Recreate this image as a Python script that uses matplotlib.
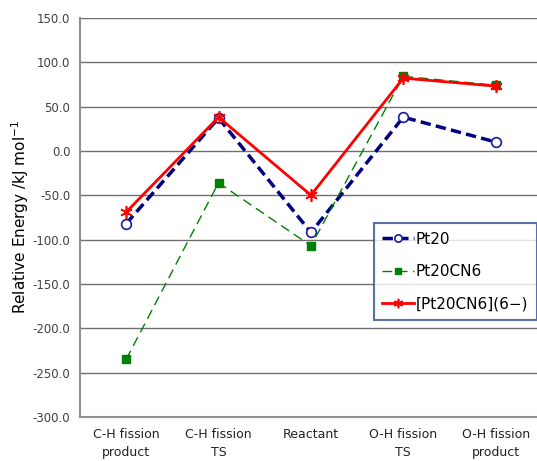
import numpy as np
import matplotlib
matplotlib.use("Agg")
from matplotlib import pyplot as plt

categories = ["C-H fission\nproduct", "C-H fission\nTS", "Reactant", "O-H fission\nTS", "O-H fission\nproduct"]
pt20 = [-82, 37, -92, 38, 10]
pt20cn6 = [-235, -36, -107, 84, 74]
pt20cn6_ion = [-69, 38, -50, 82, 73]
yticks = np.arange(-300, 151, 50)

fig = plt.figure(figsize=(5.37, 4.61), dpi=100)
ax = fig.add_axes([0.149, 0.0954, 0.86, 0.866])
xs = np.arange(len(categories))

ax.plot(xs, pt20, color="#000080", lw=2.5, ls=(0, (3, 1.5)), marker="o", ms=7,
        mfc="white", mec="#1a1aa0", mew=1.2, label="Pt20", zorder=3)
ax.plot(xs, pt20cn6, color="#008000", lw=1, ls=(0, (7, 4)), marker="s", ms=6,
        mfc="#008000", mec="#008000", label="Pt20CN6", zorder=3)
ax.plot(xs, pt20cn6_ion, color="#ff0000", lw=2, ls="-", marker=(6, 2, 0), ms=9,
        mec="#ff0000", mew=1.2, label="[Pt20CN6](6\u2212)", zorder=4)

ax.set_xlim(-0.5, 4.5)
ax.set_ylim(-300, 150)
ax.set_yticks(yticks)
ax.set_yticklabels(["%.1f" % v for v in yticks], fontsize=8.5, color="#404040")
ax.set_xticks(xs)
ax.set_xticklabels(categories, fontsize=9, color="#222222", linespacing=1.5)
ax.tick_params(axis="x", length=0, pad=8)
ax.tick_params(axis="y", length=0, pad=7)
ax.yaxis.grid(True, color="#707070", lw=1)
ax.set_axisbelow(True)
for s in ["top", "right"]:
    ax.spines[s].set_visible(False)
ax.spines["left"].set_color("#909090")
ax.spines["bottom"].set_color("#909090")
ax.spines["left"].set_linewidth(1.5)
ax.spines["bottom"].set_linewidth(1.5)
ax.set_ylabel("Relative Energy /kJ mol$^{-1}$", fontsize=11, labelpad=1)

leg = fig.legend(loc="upper left", bbox_to_anchor=(0.696, 0.516), fontsize=11,
                 frameon=True, fancybox=False, handlelength=2.1, labelspacing=1.15,
                 borderpad=0.55, handletextpad=0.1, borderaxespad=0, markerscale=0.75)
leg.get_frame().set_edgecolor("#2F4F8F")
leg.get_frame().set_linewidth(1.5)

fig.savefig("out.png", dpi=100)
